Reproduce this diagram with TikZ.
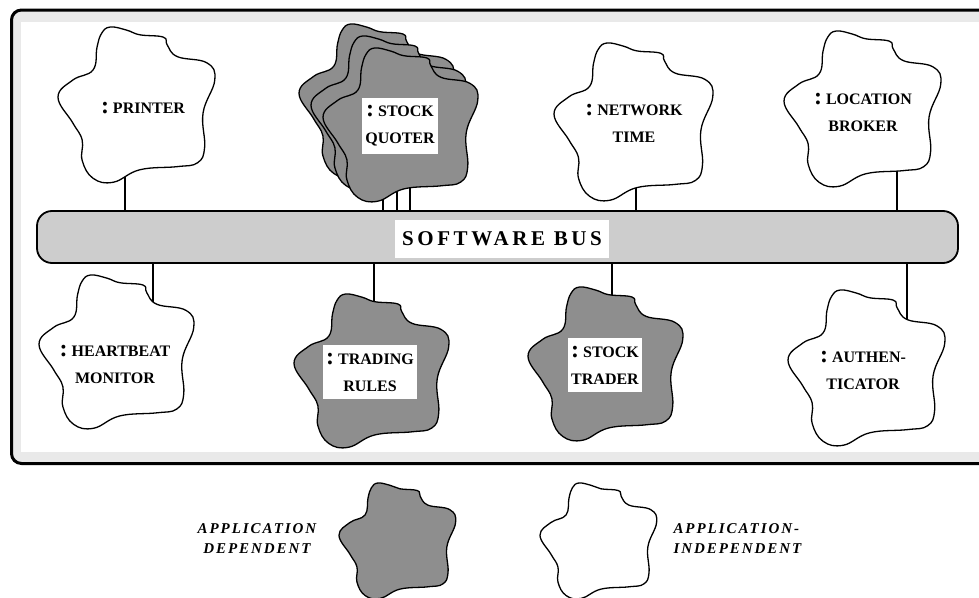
\documentclass[tikz,border=0pt]{standalone}
\usepackage{fontspec}
\setmainfont{Liberation Serif}
\definecolor{framegray}{HTML}{E9E9E9}
\definecolor{busgray}{HTML}{CDCDCD}
\definecolor{depgray}{HTML}{8E8E8E}
% enlarged colon that opens every object name
\newcommand{\cln}{{\fontsize{24}{24}\selectfont:}\hspace{4pt}}
% one wobbly "object" outline: #1 style, #2 centre, #3 radius
\newcommand{\blobdraw}[3]{%
  \draw[#1,shift={#2},scale=#3] plot[smooth cycle,tension=0.7] coordinates {
    (-0.33,-1.0) (-0.12,-0.96) (0.05,-0.90) (0.35,-0.87) (0.40,-0.77)
    (0.53,-0.62) (0.91,-0.54) (1.01,-0.32) (0.86,0.10) (0.88,0.54)
    (0.79,0.74) (0.53,0.79) (0.05,0.83) (-0.29,0.99) (-0.55,0.94)
    (-0.69,0.71) (-0.69,0.45) (-0.81,0.23) (-1.0,-0.10) (-0.81,-0.32)
    (-0.55,-0.45) (-0.50,-0.74) (-0.44,-0.92)};}
\begin{document}
\begin{tikzpicture}[x=1pt,y=-1pt,
  cloudline/.style={draw=black,line width=1.3pt},
  appind/.style={cloudline,fill=white},
  appdep/.style={cloudline,fill=depgray},
  stem/.style={draw=black,line width=1.4pt},
  tag/.style={font=\fontsize{16}{27}\selectfont\bfseries,align=center,inner xsep=3pt,inner ysep=8pt},
  tagbox/.style={tag,fill=white},
  legendtext/.style={font=\fontsize{15}{20}\selectfont\bfseries\itshape\addfontfeatures{LetterSpace=13}},
  bustext/.style={font=\fontsize{21}{21}\selectfont\bfseries\addfontfeatures{LetterSpace=17},fill=white,minimum width=214pt,minimum height=38pt,inner sep=0pt}]
\useasboundingbox (0,0) rectangle (979,597);
\clip (0,0) rectangle (979,597);

% outer panel
\draw[line width=3pt,fill=framegray,rounded corners=10pt] (11.5,10) rectangle (990,463.5);
\fill[white] (21,22) rectangle (990,452);

% software bus
\node[draw=black,line width=1.8pt,fill=busgray,rounded corners=15pt,
      minimum width=921pt,minimum height=52pt,inner sep=0pt] (bus) at (497.5,237) {};
\node[bustext] (buslabel) at (502,239) {SOFTWARE BUS};

% stems from the objects to the bus
\coordinate (printer-s) at (125,150);
\coordinate (quoterA-s) at (383,170);
\coordinate (quoterB-s) at (397,170);
\coordinate (quoterC-s) at (410,170);
\coordinate (network-s) at (636,150);
\coordinate (location-s) at (897,150);
\coordinate (heartbeat-s) at (153,330);
\coordinate (trading-s) at (374,330);
\coordinate (trader-s) at (612,330);
\coordinate (auth-s) at (907,330);
\foreach \s in {printer-s,quoterA-s,quoterB-s,quoterC-s,network-s,location-s}
  \draw[stem] (\s) -- (\s |- bus.north);
\foreach \s in {heartbeat-s,trading-s,trader-s,auth-s}
  \draw[stem] (bus.south -| \s) -- (\s);

% objects above the bus
\blobdraw{appind}{(136,105)}{78}
\blobdraw{appdep}{(376,101)}{77}
\blobdraw{appdep}{(388,113)}{77}
\blobdraw{appdep}{(400,125)}{77}
\blobdraw{appind}{(633,122)}{79}
\blobdraw{appind}{(862,109)}{78}

% objects below the bus
\blobdraw{appind}{(116,352)}{77}
\blobdraw{appdep}{(371,371)}{77}
\blobdraw{appdep}{(605,364)}{77}
\blobdraw{appind}{(866,368)}{78}

% legend shapes
\blobdraw{appdep}{(397,541)}{58}
\blobdraw{appind}{(598,541)}{58}

% object names
\node[tag] (printer) at (143,108) {\cln PRINTER};
\node[tagbox] (quoter) at (400,126) {\cln STOCK\\QUOTER};
\node[tag] (network) at (634,123) {\cln NETWORK\\TIME};
\node[tag] (location) at (863,112) {\cln LOCATION\\BROKER};
\node[tag] (heartbeat) at (115,364) {\cln HEARTBEAT\\MONITOR};
\node[tagbox] (trading) at (370,372) {\cln TRADING\\RULES};
\node[tagbox] (trader) at (605,365) {\cln STOCK\\TRADER};
\node[tag] (auth) at (863,370) {\cln AUTHEN-\\TICATOR};

% legend texts
\node[legendtext,align=center] (deplabel) at (257,539) {APPLICATION\\DEPENDENT};
\node[legendtext,align=left,anchor=west] (indlabel) at (670,539) {APPLICATION-\\INDEPENDENT};
\end{tikzpicture}
\end{document}
